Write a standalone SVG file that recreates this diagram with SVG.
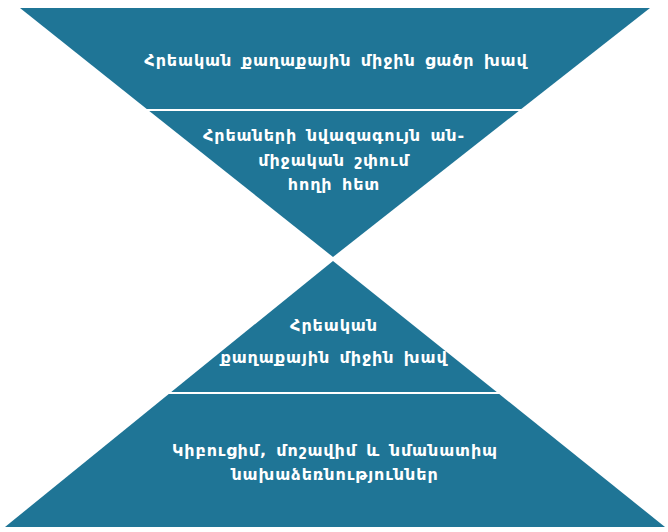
<svg xmlns="http://www.w3.org/2000/svg" width="668" height="532" viewBox="0 0 668 532">
<style>
.seg{fill:#1F7596;stroke:none}
.div{stroke:#ffffff;stroke-width:2}
.t{font-family:"DejaVu Sans","Noto Sans",sans-serif;font-weight:bold;font-size:16px;letter-spacing:0.9px;word-spacing:3px;fill:#ffffff;text-anchor:middle}
</style>
<rect width="668" height="532" fill="#ffffff"/>
<g id="top-band">
<polygon class="seg" points="20,8 650,8 520,110 148,110"/>
<text class="t" x="336" y="66">Հրեական քաղաքային միջին ցածր խավ</text>
</g>
<g id="top-tip">
<polygon class="seg" points="148,110 520,110 333,257"/>
<text class="t" x="334" y="141">Հրեաների նվազագույն ան-</text>
<text class="t" x="334" y="166">միջական շփում</text>
<text class="t" x="334" y="190">հողի  հետ</text>
</g>
<g id="bottom-tip">
<polygon class="seg" points="333,261 498,393 170,393"/>
<text class="t" x="334" y="331">Հրեական</text>
<text class="t" x="334" y="363">քաղաքային միջին խավ</text>
</g>
<g id="bottom-band">
<polygon class="seg" points="170,393 498,393 665,527 5,527"/>
<text class="t" x="335" y="456">Կիբուցիմ, մոշավիմ և նմանատիպ</text>
<text class="t" x="335" y="480">նախաձեռնություններ</text>
</g>
<g id="connectors">
<line class="div" x1="146" y1="110" x2="522" y2="110"/>
<line class="div" x1="168" y1="393" x2="500" y2="393"/>
</g>
</svg>
